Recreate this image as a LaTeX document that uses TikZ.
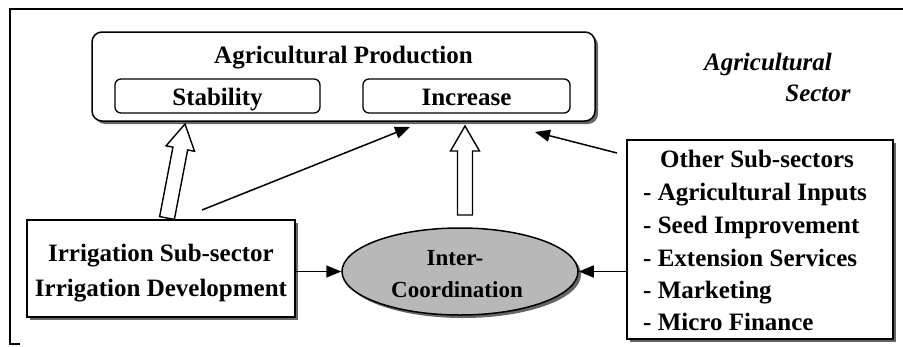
\documentclass[tikz,border=0pt]{standalone}
\usepackage{fontspec}
\setmainfont{Liberation Serif}
\usetikzlibrary{arrows.meta,calc,shadows,shapes.geometric}

% hollow block arrow from #1 (tail) to #2 (tip)
\newcommand\hollowarw[2]{%
  \path ($(#2)!25pt!(#1)$) coordinate (hb);
  \draw[hollow] ($(#1)!7.5pt!90:(#2)$) -- ($(hb)!7.5pt!90:(#2)$)
    -- ($(hb)!14.5pt!90:(#2)$) -- (#2) -- ($(hb)!14.5pt!-90:(#2)$)
    -- ($(hb)!7.5pt!-90:(#2)$) -- ($(#1)!7.5pt!-90:(#2)$) -- cycle;}

\begin{document}
\begin{tikzpicture}[x=1pt,y=-1pt,
  shade/.style={drop shadow={shadow xshift=3pt,shadow yshift=-3pt,fill=black!60,opacity=1}},
  box/.style={draw,line width=1.5pt,fill=white,inner sep=0pt,shade},
  subbox/.style={draw,line width=1.3pt,rounded corners=6pt,inner sep=0pt},
  lbl/.style={inner sep=0pt,font=\fontsize{25pt}{30pt}\selectfont\bfseries},
  ilbl/.style={inner sep=0pt,font=\fontsize{25pt}{30pt}\selectfont\bfseries\itshape},
  elbl/.style={inner sep=0pt,font=\fontsize{23pt}{28pt}\selectfont\bfseries},
  arr/.style={line width=1.5pt,-{Triangle[length=15pt,width=12pt]}},
  hollow/.style={draw,line width=1.4pt,fill=white,line join=miter}]
\useasboundingbox (0,0) rectangle (903,346);

% sector frame
\draw[line width=1.8pt] (20,344) -- (10,344) -- (10,9) -- (910,9);

% agricultural production
\node[box,rounded corners=10pt,minimum width=503pt,minimum height=89pt] (prod) at (343.5,76.5) {};
\node[lbl,anchor=base] (tprod) at (343.5,63) {Agricultural Production};
\node[subbox,minimum width=205pt,minimum height=34pt] (stab) at (217.5,96) {};
\node[lbl,anchor=base] (tstab) at (217.5,105) {Stability};
\node[subbox,minimum width=207pt,minimum height=34pt] (inc) at (466.5,96) {};
\node[lbl,anchor=base] (tinc) at (466.5,105) {Increase};

% sector caption
\node[ilbl,anchor=base] (tagr) at (768,70) {Agricultural};
\node[ilbl,anchor=base] (tsec) at (818,101) {Sector};

% irrigation sub-sector
\node[box,minimum width=268pt,minimum height=97pt] (irr) at (161,268.5) {};
\node[lbl,anchor=base] (tirr1) at (161,261) {Irrigation Sub-sector};
\node[lbl,anchor=base] (tirr2) at (161,296) {Irrigation Development};

% other sub-sectors
\node[box,minimum width=266pt,minimum height=199pt] (oth) at (760,239.5) {};
\node[lbl,anchor=base] (toth) at (757,167) {Other Sub-sectors};
\node[lbl,anchor=base west] (o1) at (643,200) {- Agricultural Inputs};
\node[lbl,anchor=base west] (o2) at (643,233) {- Seed Improvement};
\node[lbl,anchor=base west] (o3) at (643,266) {- Extension Services};
\node[lbl,anchor=base west] (o4) at (643,298) {- Marketing};
\node[lbl,anchor=base west] (o5) at (643,330) {- Micro Finance};

% inter-coordination
\node[ellipse,draw,line width=1.5pt,fill=black!28,inner sep=0pt,shade,
      minimum width=236pt,minimum height=87pt] (ell) at (460,271.5) {};
\node[elbl,anchor=base] (te1) at (455,265) {Inter-};
\node[elbl,anchor=base] (te2) at (457,297) {Coordination};

% connector end points
\coordinate (irrOut) at (202,210);
\coordinate (prodInA) at (410,127);
\coordinate (othOut) at (617,153);
\coordinate (prodInB) at (535,132);
\coordinate (stabTail) at (167,218);
\coordinate (stabTip) at (185,124);
\coordinate (incTail) at (465,215);
\coordinate (incTip) at (465,126);

\draw[arr] (irrOut) -- (prodInA);
\draw[arr] (othOut) -- (prodInB);
\draw[arr] (irr.east |- ell.west) -- (ell.west);
\draw[arr] (oth.west |- ell.east) -- (ell.east);
\hollowarw{stabTail}{stabTip}
\hollowarw{incTail}{incTip}
\end{tikzpicture}
\end{document}
